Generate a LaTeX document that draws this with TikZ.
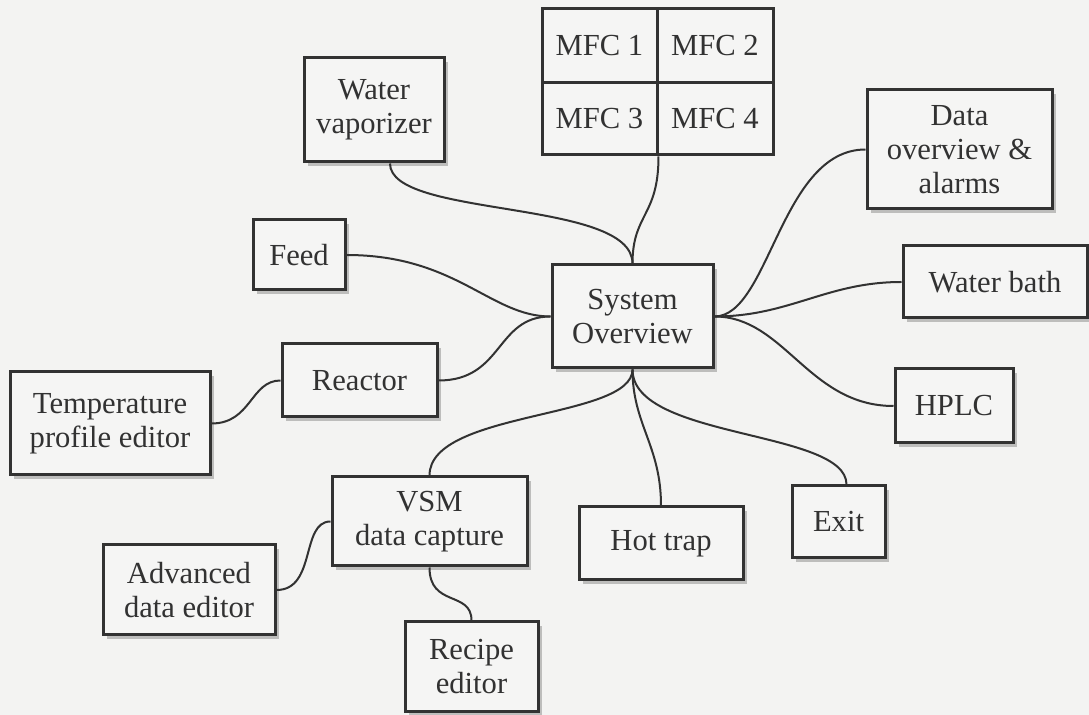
\documentclass[tikz,border=0pt]{standalone}
\usepackage{fontspec}
\setmainfont{Liberation Serif}
\usetikzlibrary{calc,shadows}
\definecolor{paper}{RGB}{243,243,242}
\definecolor{boxfill}{RGB}{245,245,244}
\definecolor{ink}{RGB}{50,50,50}
\tikzset{
  sz/.style 2 args={minimum width=#1*0.5pt, minimum height=#2*0.5pt},
  panel/.style={draw=ink, line width=1.5pt, fill=boxfill, text=ink,
    align=center, inner sep=0pt, font=\fontsize{15.3}{17}\selectfont,
    drop shadow={shadow xshift=1.8pt, shadow yshift=-1.8pt, opacity=0.22, fill=black}},
  cell/.style={draw=ink, line width=1.5pt, fill=boxfill, text=ink,
    inner sep=0pt, font=\fontsize{15.3}{17}\selectfont},
  link/.style={draw=ink, line width=1pt}
}
\begin{document}
\begin{tikzpicture}[x=0.5pt,y=-0.5pt]
\useasboundingbox (0,0) rectangle (1089,715);
\fill[paper] (0,0) rectangle (1089,715);

% mass flow controller grid
\node[cell, sz={115}{74}] (mfc1) at (599.5,46) {MFC 1};
\node[cell, sz={116}{74}] (mfc2) at (715,46) {MFC 2};
\node[cell, sz={115}{72}] (mfc3) at (599.5,119) {MFC 3};
\node[cell, sz={116}{72}] (mfc4) at (715,119) {MFC 4};

% central screen
\node[panel, sz={161}{103}] (so) at (632.5,316.5) {System\\Overview};

% left-hand screens
\node[panel, sz={140}{104}] (water) at (374,110) {Water\\vaporizer};
\node[panel, sz={92}{70}] (feed) at (299,255) {Feed};
\node[panel, sz={155}{73}] (reactor) at (359.5,380.5) {Reactor};
\node[panel, sz={200}{103}] (tpe) at (110,423.5) {Temperature\\profile editor};
\node[panel, sz={195}{89}] (vsm) at (429.5,521.5) {VSM\\data capture};
\node[panel, sz={172}{90}] (ade) at (189,590) {Advanced\\data editor};
\node[panel, sz={133}{90}] (recipe) at (471.5,667) {Recipe\\editor};

% lower and right-hand screens
\node[panel, sz={164}{73}] (hot) at (661,543.5) {Hot trap};
\node[panel, sz={93}{72}] (exit) at (838.5,522) {Exit};
\node[panel, sz={185}{119}] (data) at (959.5,149.5) {Data\\overview \&\\alarms};
\node[panel, sz={184}{72}] (bath) at (995,282) {Water bath};
\node[panel, sz={118}{74}] (hplc) at (954,406) {HPLC};

% navigation links
\draw[link] (mfc3.south east) .. controls +(0,60) and +(0,-50) .. (so.north);
\draw[link] ($(water.south)+(16,0)$) .. controls +(0,55) and +(0,-65) .. (so.north);
\draw[link] (feed.east) .. controls +(110,0) and +(-60,0) .. (so.west);
\draw[link] (reactor.east) .. controls +(65,0) and +(-55,0) .. (so.west);
\draw[link] (tpe.east) .. controls +(40,0) and +(-30,0) .. (reactor.west);
\draw[link] (vsm.north) .. controls +(0,-65) and +(0,50) .. (so.south);
\draw[link] (ade.east) .. controls +(40,0) and +(-30,0) .. (vsm.west);
\draw[link] (vsm.south) .. controls +(0,40) and +(0,-30) .. (recipe.north);
\draw[link] (so.south) .. controls +(0,55) and +(0,-60) .. (hot.north);
\draw[link] (so.south) .. controls +(0,70) and +(0,-55) .. ($(exit.north)+(8,0)$);
\draw[link] (so.east) .. controls +(55,0) and +(-85,0) .. (data.west);
\draw[link] (so.east) .. controls +(75,0) and +(-75,0) .. (bath.west);
\draw[link] (so.east) .. controls +(70,0) and +(-85,0) .. (hplc.west);
\end{tikzpicture}
\end{document}
